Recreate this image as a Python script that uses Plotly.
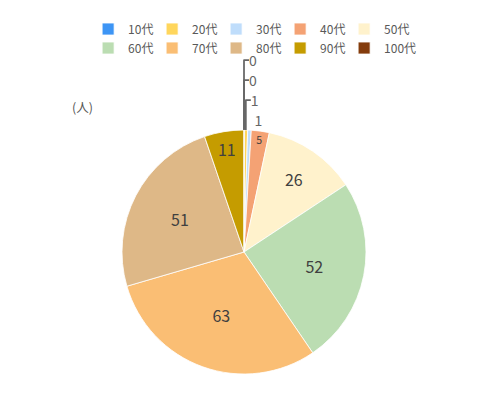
import plotly.graph_objects as go

categories = ["10代", "20代", "30代", "40代", "50代", "60代", "70代", "80代", "90代", "100代"]
counts = [0, 1, 1, 5, 26, 52, 63, 51, 11, 0]
colors = ["#3D95F5", "#FFD65C", "#BFDDFB", "#F4A274", "#FFF2CC",
          "#BBDDB2", "#FABE74", "#DEB887", "#C59C00", "#843C0C"]
positions = ["outside" if v < 3 else "inside" for v in counts]
unit_label = "(人)"

fig = go.Figure(go.Pie(
    labels=categories,
    values=counts,
    marker=dict(colors=colors, line=dict(color="white", width=0.8)),
    sort=False,
    direction="clockwise",
    rotation=0,
    textinfo="value",
    textposition=positions,
    insidetextorientation="horizontal",
    textfont=dict(family="Noto Sans CJK JP", size=16, color="#404040"),
    outsidetextfont=dict(family="Noto Sans CJK JP", size=14, color="#666666"),
    showlegend=True,
    hoverinfo="label+value",
))

fig.update_layout(
    width=480, height=395,
    margin=dict(l=71, r=79, t=122, b=29, autoexpand=False),
    paper_bgcolor="white",
    plot_bgcolor="white",
    font=dict(family="Noto Sans CJK JP", color="#595959"),
    legend=dict(
        orientation="h",
        x=0.064, xanchor="left",
        yref="container", y=0.9835, yanchor="top",
        indentation=-12,
        entrywidth=31, entrywidthmode="pixels",
        bgcolor="rgba(255,255,255,0)",
        font=dict(size=12, color="#595959"),
        traceorder="normal",
    ),
    annotations=[dict(
        text=unit_label, xref="paper", yref="paper",
        x=-0.027, y=1.098, xanchor="left", yanchor="middle", showarrow=False,
        font=dict(size=12.5, color="#595959"),
    )],
)

fig.write_html("out.html")
